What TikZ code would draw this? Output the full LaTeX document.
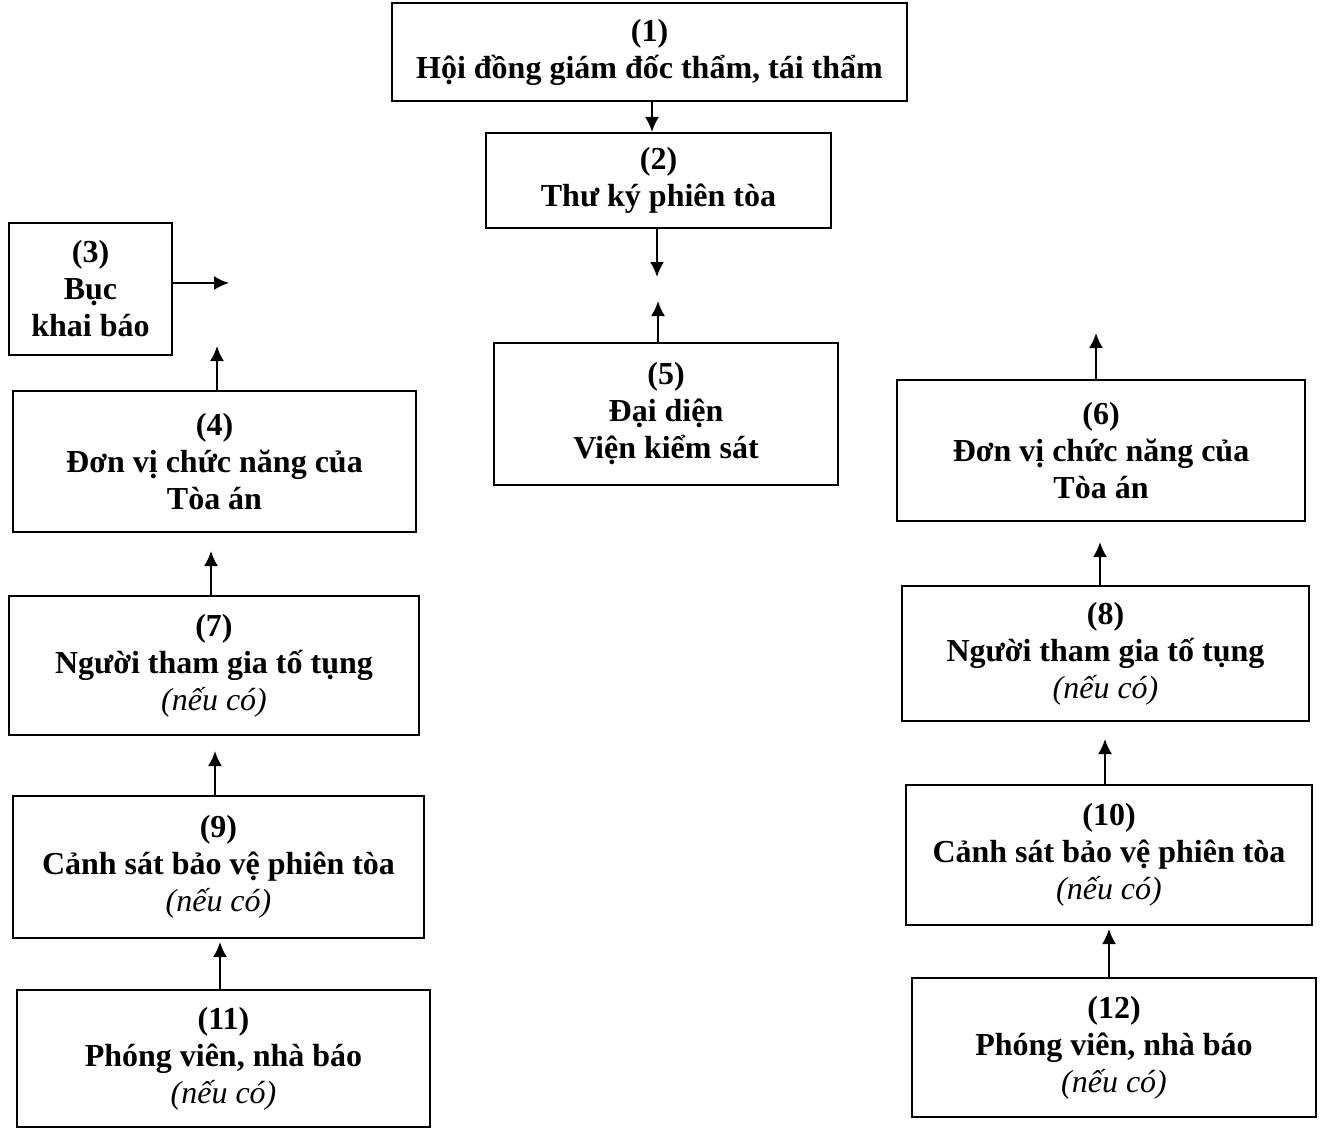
\documentclass[tikz,border=0pt]{standalone}
\usepackage{fontspec}
\setmainfont{Liberation Serif}
\usetikzlibrary{positioning,arrows.meta}
\newcommand{\khung}[2]{
	\node[draw, rectangle, line width = 1pt, minimum width = #1, minimum height = #2, align = center, font = \fontsize{16}{18.5}\selectfont\bfseries]
}
\newcommand{\neuco}{\textit{\mdseries (nếu có)}}
\tikzset{mui/.style = {-{Latex[length=7.5pt, width=7pt]}, line width = 1pt}}

\begin{document}
\begin{tikzpicture}[x = 0.5pt, y = -0.5pt]
		\path[use as bounding box, fill = white] (0,0) rectangle (1323,1129);

		\khung{257.5}{49} (hoidong) at (649.5,52) {(1)\\Hội đồng giám đốc thẩm, tái thẩm};
		\khung{172.5}{47.5} (thuky) at (658.5,180.5) {(2)\\Thư ký phiên tòa};

		\khung{81.5}{66} (buc) at (90.5,289) {(3)\\Bục\\khai báo};
		\khung{201.5}{70.5} (donvi_l) at (214.5,461.5) {(4)\\Đơn vị chức năng của\\Tòa án};
		\khung{172}{71} (vks) at (666,414) {(5)\\Đại diện\\Viện kiểm sát};
		\khung{204}{70.5} (donvi_r) at (1101,450.5) {(6)\\Đơn vị chức năng của\\Tòa án};

		\khung{205}{69.5} (nguoi_l) at (214,665.5) {(7)\\Người tham gia tố tụng\\\neuco};
		\khung{203.5}{67.5} (nguoi_r) at (1105.5,653.5) {(8)\\Người tham gia tố tụng\\\neuco};
		\khung{205.5}{71} (canhsat_l) at (218.5,867) {(9)\\Cảnh sát bảo vệ phiên tòa\\\neuco};
		\khung{203}{70} (canhsat_r) at (1109,855) {(10)\\Cảnh sát bảo vệ phiên tòa\\\neuco};
		\khung{206.5}{68.5} (phongvien_l) at (223.5,1058.5) {(11)\\Phóng viên, nhà báo\\\neuco};
		\khung{202}{69.5} (phongvien_r) at (1114,1047.5) {(12)\\Phóng viên, nhà báo\\\neuco};

		% diem dau, diem cuoi cua cac mui ten
		\coordinate (tk_vao) at ([xshift=-3.25pt]thuky.north);
		\coordinate (tk_ra) at ([xshift=-0.75pt]thuky.south);
		\coordinate[below=24pt of tk_ra] (tk_mui);
		\coordinate (vks_ra) at ([xshift=-4pt]vks.north);
		\coordinate[above=20.5pt of vks_ra] (vks_mui);
		\coordinate (buc_ra) at ([yshift=3pt]buc.east);
		\coordinate[right=28pt of buc_ra] (buc_mui);
		\coordinate (dvl_ra) at ([xshift=1.25pt]donvi_l.north);
		\coordinate[above=22pt of dvl_ra] (dvl_mui);
		\coordinate (dvr_ra) at ([xshift=-2.5pt]donvi_r.north);
		\coordinate[above=23pt of dvr_ra] (dvr_mui);
		\coordinate (ngl_ra) at ([xshift=-1.5pt]nguoi_l.north);
		\coordinate[above=22pt of ngl_ra] (ngl_mui);
		\coordinate (ngr_ra) at ([xshift=-2.75pt]nguoi_r.north);
		\coordinate[above=21.5pt of ngr_ra] (ngr_mui);
		\coordinate (csl_ra) at ([xshift=-1.75pt]canhsat_l.north);
		\coordinate[above=22pt of csl_ra] (csl_mui);
		\coordinate (csr_ra) at ([xshift=-2pt]canhsat_r.north);
		\coordinate[above=22.5pt of csr_ra] (csr_mui);
		\coordinate (pvl_ra) at ([xshift=-1.75pt]phongvien_l.north);
		\coordinate[above=23.5pt of pvl_ra] (pvl_mui);
		\coordinate (pvr_ra) at ([xshift=-2.5pt]phongvien_r.north);
		\coordinate[above=24pt of pvr_ra] (pvr_mui);

		\draw[mui] (hoidong.south -| tk_vao) -- (tk_vao);
		\draw[mui] (tk_ra) -- (tk_mui);
		\draw[mui] (vks_ra) -- (vks_mui);
		\draw[mui] (buc_ra) -- (buc_mui);
		\draw[mui] (dvl_ra) -- (dvl_mui);
		\draw[mui] (dvr_ra) -- (dvr_mui);
		\draw[mui] (ngl_ra) -- (ngl_mui);
		\draw[mui] (ngr_ra) -- (ngr_mui);
		\draw[mui] (csl_ra) -- (csl_mui);
		\draw[mui] (csr_ra) -- (csr_mui);
		\draw[mui] (pvl_ra) -- (pvl_mui);
		\draw[mui] (pvr_ra) -- (pvr_mui);

	\end{tikzpicture}
\end{document}
